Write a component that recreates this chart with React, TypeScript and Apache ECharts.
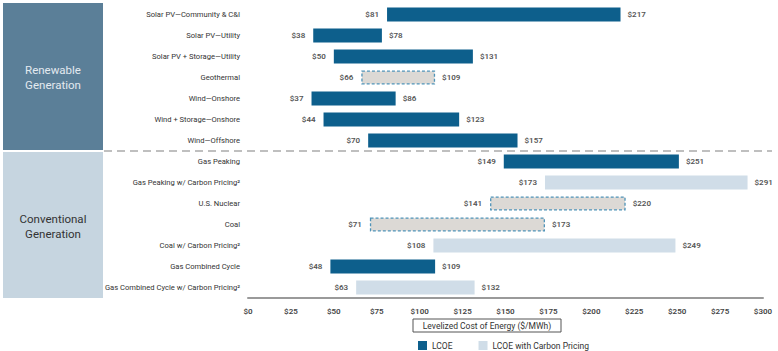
import React, { useEffect, useRef } from "react";
import * as echarts from "echarts";

const categories = [
  "Solar PV—Community & C&I",
  "Solar PV—Utility",
  "Solar PV + Storage—Utility",
  "Geothermal",
  "Wind—Onshore",
  "Wind + Storage—Onshore",
  "Wind—Offshore",
  "Gas Peaking",
  "Gas Peaking w/ Carbon Pricing²",
  "U.S. Nuclear",
  "Coal",
  "Coal w/ Carbon Pricing²",
  "Gas Combined Cycle",
  "Gas Combined Cycle w/ Carbon Pricing²",
];
const lows = [81, 38, 50, 66, 37, 44, 70, 149, 173, 141, 71, 108, 48, 63];
const highs = [217, 78, 131, 109, 86, 123, 157, 251, 291, 220, 173, 249, 109, 132];
// "lcoe" = dark bar, "carbon" = light bar, "dashed" = grey dashed-outline bar
const kinds = [
  "lcoe", "lcoe", "lcoe", "dashed", "lcoe", "lcoe", "lcoe",
  "lcoe", "carbon", "dashed", "dashed", "carbon", "lcoe", "carbon",
];
const xTicks = [0, 25, 50, 75, 100, 125, 150, 175, 200, 225, 250, 275, 300];
const groupNames = ["Renewable\nGeneration", "Conventional\nGeneration"];
const legendNames = ["LCOE", "LCOE with Carbon Pricing"];
const axisTitle = "Levelized Cost of Energy ($/MWh)";

const DARK = "#0d5f8c";
const LIGHT = "#d0dde8";
const GREY = "#dcd9d5";
const FONT = "Roboto, 'Noto Sans', sans-serif";

export default function App() {
  const ref = useRef<HTMLDivElement>(null);
  useEffect(() => {
    if (!ref.current) return;
    const chart = echarts.init(ref.current, null, { renderer: "svg" });
    const labelStyle = { color: "#555", fontSize: 8, fontWeight: 600 as any, fontFamily: FONT };
    const lcoeData = lows.map((l, i) => {
      if (kinds[i] === "carbon") return "-";
      const v = highs[i] - l;
      if (kinds[i] === "dashed")
        return {
          value: v,
          itemStyle: { color: GREY, borderColor: "#4f93b8", borderType: [3, 2], borderWidth: 1.3 },
        };
      return v;
    });
    const carbonData = lows.map((l, i) => (kinds[i] === "carbon" ? highs[i] - l : "-"));
    const highLabel = {
      show: true,
      position: "right",
      distance: 7,
      ...labelStyle,
      formatter: (p: any) => "$" + highs[p.dataIndex],
    };
    chart.setOption({
      animation: false,
      textStyle: { fontFamily: FONT },
      grid: { left: 248, right: 15, top: 4, height: 294, containLabel: false },
      xAxis: {
        type: "value",
        min: 0,
        max: 300,
        interval: 25,
        splitLine: { show: false },
        axisTick: { show: false },
        axisLine: { show: true, lineStyle: { color: "#9a9a9a", width: 2 } },
        axisLabel: {
          margin: 9,
          ...labelStyle,
          color: "#444",
          formatter: (v: number) => (xTicks.includes(v) ? "$" + v : ""),
        },
      },
      yAxis: {
        type: "category",
        data: categories,
        inverse: true,
        axisLine: { show: false },
        axisTick: { show: false },
        axisLabel: { margin: 8, color: "#333", fontSize: 7.6, fontWeight: "normal", fontFamily: FONT },
      },
      legend: {
        data: legendNames,
        left: 413,
        top: 336,
        icon: "rect",
        itemWidth: 9,
        itemHeight: 9,
        itemGap: 26,
        textStyle: { color: "#333", fontSize: 8.5, fontFamily: FONT },
      },
      series: [
        {
          name: "base",
          type: "bar",
          stack: "r",
          barWidth: 14,
          data: lows,
          itemStyle: { color: "transparent" },
          label: {
            show: true,
            position: "insideRight",
            distance: 8,
            ...labelStyle,
            formatter: (p: any) => "$" + p.value,
          },
          silent: true,
        },
        {
          name: "LCOE",
          type: "bar",
          stack: "r",
          barWidth: 14,
          data: lcoeData,
          itemStyle: { color: DARK },
          label: highLabel,
        },
        {
          name: "LCOE with Carbon Pricing",
          type: "bar",
          stack: "r",
          barWidth: 14,
          data: carbonData,
          itemStyle: { color: LIGHT },
          label: highLabel,
        },
      ],
      graphic: [
        { type: "rect", shape: { x: 3, y: 3, width: 100, height: 147 }, style: { fill: "#5b7f98" } },
        {
          type: "text",
          x: 53,
          y: 77,
          style: {
            text: groupNames[0],
            fill: "#e3eaf0",
            fontSize: 11.5,
            fontFamily: FONT,
            align: "center",
            verticalAlign: "middle",
            lineHeight: 15,
          },
        },
        { type: "rect", shape: { x: 3, y: 152, width: 100, height: 146 }, style: { fill: "#c6d5e0" } },
        {
          type: "text",
          x: 53,
          y: 226,
          style: {
            text: groupNames[1],
            fill: "#333",
            fontSize: 11.5,
            fontFamily: FONT,
            align: "center",
            verticalAlign: "middle",
            lineHeight: 15,
          },
        },
        {
          type: "line",
          shape: { x1: 104, y1: 151, x2: 772, y2: 151 },
          style: { stroke: "#aaa", lineWidth: 1.5, lineDash: [8, 5] },
        },
        {
          type: "rect",
          shape: { x: 413, y: 319, width: 148, height: 13 },
          style: { fill: "#fff", stroke: "#555", lineWidth: 1 },
        },
        {
          type: "text",
          x: 487,
          y: 325.5,
          style: {
            text: axisTitle,
            fill: "#333",
            fontSize: 8.5,
            fontFamily: FONT,
            align: "center",
            verticalAlign: "middle",
          },
        },
      ],
    });
    return () => chart.dispose();
  }, []);
  return <div ref={ref} style={{ width: 778, height: 351, position: "absolute", left: 0, top: 0 }} />;
}
